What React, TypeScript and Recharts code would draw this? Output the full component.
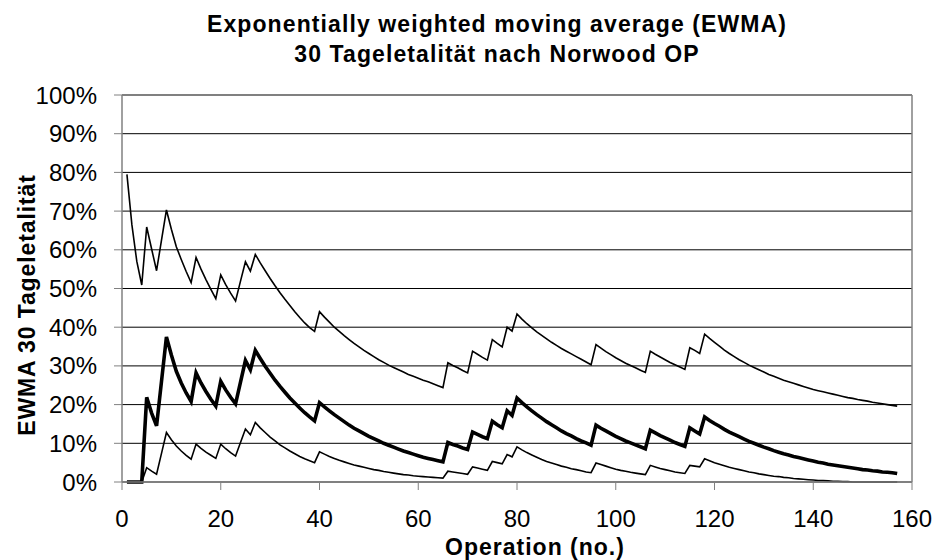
import React from 'react';
import { LineChart, Line, XAxis, YAxis, CartesianGrid, ReferenceLine } from 'recharts';

const FONT = '"Liberation Sans", Arial, Helvetica, sans-serif';

// Upper control limit (%), operations 1..157
const upper = [
  79.5, 66.5, 57.0, 50.9, 65.9, 60.2, 54.6, 62.5, 70.3, 65.3,
  60.8, 57.5, 54.4, 51.5, 58.0, 55.0, 52.3, 49.8, 47.4, 53.5,
  51.0, 48.8, 46.8, 51.9, 56.9, 54.5, 58.8, 56.6, 54.6, 52.6,
  50.7, 48.9, 47.2, 45.6, 44.0, 42.5, 41.1, 39.9, 38.9, 44.0,
  42.6, 41.3, 40.0, 38.9, 37.8, 36.8, 35.8, 34.9, 34.0, 33.2,
  32.4, 31.6, 30.9, 30.2, 29.6, 29.0, 28.4, 27.8, 27.3, 26.8,
  26.3, 25.9, 25.4, 24.9, 24.4, 30.8, 30.1, 29.5, 28.8, 28.2,
  33.8, 33.0, 32.2, 31.5, 36.8, 35.8, 34.9, 40.0, 39.0, 43.4,
  42.1, 40.9, 39.8, 38.8, 37.9, 37.0, 36.1, 35.3, 34.5, 33.8,
  33.1, 32.4, 31.7, 31.0, 30.3, 35.5, 34.6, 33.7, 32.9, 32.1,
  31.4, 30.7, 30.1, 29.5, 28.9, 28.3, 33.8, 33.0, 32.3, 31.6,
  30.9, 30.3, 29.7, 29.1, 34.7, 34.0, 33.2, 38.2, 37.1, 36.1,
  35.1, 34.1, 33.2, 32.4, 31.6, 30.9, 30.2, 29.6, 29.0, 28.4,
  27.8, 27.3, 26.8, 26.3, 25.9, 25.5, 25.1, 24.7, 24.3, 23.9,
  23.6, 23.3, 23.0, 22.7, 22.4, 22.1, 21.8, 21.6, 21.3, 21.1,
  20.9, 20.6, 20.4, 20.2, 20.0, 19.8, 19.6,
];

// EWMA 30-day mortality (%)
const ewma = [
  0, 0, 0, 0, 21.9, 17.8, 14.5, 26.0, 37.5, 32.8,
  28.6, 25.6, 23.0, 20.8, 28.2, 25.6, 23.4, 21.4, 19.6, 26.0,
  23.8, 21.9, 20.2, 25.8, 31.4, 29.0, 34.0, 31.9, 29.9, 28.1,
  26.3, 24.7, 23.2, 21.7, 20.4, 19.1, 17.9, 16.8, 15.8, 20.5,
  19.4, 18.4, 17.4, 16.5, 15.6, 14.7, 13.9, 13.2, 12.5, 11.8,
  11.2, 10.6, 10.0, 9.5, 9.0, 8.5, 8.0, 7.6, 7.2, 6.8,
  6.4, 6.1, 5.8, 5.5, 5.2, 10.2, 9.7, 9.3, 8.8, 8.4,
  12.9, 12.3, 11.7, 11.2, 15.7, 14.8, 14.0, 18.4, 17.2, 21.7,
  20.5, 19.4, 18.4, 17.4, 16.5, 15.6, 14.8, 14.0, 13.2, 12.5,
  11.9, 11.2, 10.6, 10.1, 9.5, 14.7, 13.9, 13.2, 12.5, 11.8,
  11.2, 10.6, 10.1, 9.6, 9.1, 8.6, 13.4, 12.7, 12.0, 11.4,
  10.8, 10.2, 9.7, 9.2, 14.0, 13.2, 12.4, 16.8, 15.9, 15.1,
  14.4, 13.6, 12.9, 12.3, 11.7, 11.1, 10.5, 10.0, 9.5, 9.0,
  8.6, 8.1, 7.7, 7.3, 7.0, 6.6, 6.3, 6.0, 5.7, 5.4,
  5.1, 4.9, 4.6, 4.4, 4.2, 4.0, 3.8, 3.6, 3.4, 3.2,
  3.1, 2.9, 2.8, 2.6, 2.5, 2.4, 2.2,
];

// Lower control limit (%)
const lower = [
  0, 0, 0, 0, 3.7, 2.8, 2.0, 7.4, 12.8, 10.9,
  9.3, 8.0, 6.9, 5.9, 9.8, 8.7, 7.7, 6.9, 6.1, 9.8,
  8.6, 7.6, 6.7, 10.2, 13.7, 12.2, 15.4, 14.0, 12.8, 11.6,
  10.6, 9.6, 8.8, 8.0, 7.3, 6.6, 6.0, 5.5, 5.0, 7.8,
  7.2, 6.6, 6.1, 5.6, 5.2, 4.8, 4.4, 4.1, 3.8, 3.5,
  3.2, 3.0, 2.7, 2.5, 2.3, 2.1, 1.9, 1.8, 1.6, 1.5,
  1.4, 1.3, 1.2, 1.1, 1.0, 2.8, 2.6, 2.4, 2.2, 2.0,
  3.9, 3.6, 3.3, 3.0, 5.3, 5.0, 4.7, 7.1, 6.5, 9.1,
  8.3, 7.6, 7.0, 6.4, 5.8, 5.3, 4.9, 4.5, 4.1, 3.8,
  3.4, 3.2, 2.9, 2.6, 2.4, 4.9, 4.5, 4.1, 3.7, 3.3,
  3.0, 2.8, 2.5, 2.3, 2.1, 1.9, 4.3, 3.9, 3.5, 3.2,
  2.9, 2.6, 2.4, 2.2, 4.3, 4.1, 3.9, 6.0, 5.5, 5.0,
  4.6, 4.2, 3.8, 3.5, 3.2, 2.9, 2.6, 2.4, 2.1, 1.9,
  1.7, 1.5, 1.4, 1.2, 1.1, 0.9, 0.8, 0.7, 0.6, 0.5,
  0.4, 0.4, 0.3, 0.2, 0.2, 0.1, 0.1, 0, 0, 0,
  0, 0, 0, 0, 0, 0, 0,
];

const xTicks = [0, 20, 40, 60, 80, 100, 120, 140, 160];
const yTicks = [0, 10, 20, 30, 40, 50, 60, 70, 80, 90, 100];

const titleLines = ['Exponentially weighted moving average (EWMA)', '30 Tageletalität nach Norwood OP'];
const xTitle = 'Operation (no.)';
const yTitle = 'EWMA 30 Tageletalität';

const data = upper.map((u, i) => ({ op: i + 1, upper: u, ewma: ewma[i], lower: lower[i] }));

const XTick = (props: any) => {
  const { x, y, payload } = props;
  return (
    <text x={x} y={y} dy={35} textAnchor="middle" fontFamily={FONT} fontSize={24} fill="#000">
      {payload.value}
    </text>
  );
};

const YTick = (props: any) => {
  const { x, y, payload } = props;
  return (
    <text x={x} y={y} dx={-15} dy={8.5} textAnchor="end" fontFamily={FONT} fontSize={24} fill="#000">
      {payload.value + '%'}
    </text>
  );
};

export default function App() {
  return (
    <div style={{ position: 'absolute', left: 0, top: 0, width: 936, height: 560, background: '#fff' }}>
      <LineChart
        width={936}
        height={560}
        data={data}
        margin={{ top: 95, right: 24, bottom: 0, left: 0 }}
      >
        <CartesianGrid vertical={false} stroke="#000" strokeWidth={1} />
        <XAxis
          dataKey="op"
          type="number"
          domain={[0, 160]}
          ticks={xTicks}
          interval={0}
          height={78}
          tickSize={8}
          stroke="#808080"
          tickLine={{ stroke: '#808080' }}
          axisLine={{ stroke: '#808080', strokeWidth: 1.5 }}
          tick={<XTick />}
        />
        <YAxis
          type="number"
          domain={[0, 100]}
          ticks={yTicks}
          interval={0}
          width={122}
          tickSize={8}
          stroke="#808080"
          tickLine={{ stroke: '#808080' }}
          axisLine={{ stroke: '#808080', strokeWidth: 1.5 }}
          tick={<YTick />}
        />
        <ReferenceLine y={100} stroke="#808080" strokeWidth={1.5} />
        <ReferenceLine x={160} stroke="#808080" strokeWidth={1.5} />
        <Line type="linear" dataKey="upper" stroke="#000" strokeWidth={1.6} dot={false} activeDot={false} isAnimationActive={false} />
        <Line type="linear" dataKey="lower" stroke="#000" strokeWidth={1.6} dot={false} activeDot={false} isAnimationActive={false} />
        <Line type="linear" dataKey="ewma" stroke="#000" strokeWidth={3.6} dot={false} activeDot={false} isAnimationActive={false} />
      </LineChart>
      <svg
        width={936}
        height={560}
        style={{ position: 'absolute', left: 0, top: 0, pointerEvents: 'none' }}
      >
        <text x={497} y={32} textAnchor="middle" fontFamily={FONT} fontWeight="bold" fontSize={23} letterSpacing={1.1} fill="#000">
          {titleLines[0]}
        </text>
        <text x={497} y={62} textAnchor="middle" fontFamily={FONT} fontWeight="bold" fontSize={23} letterSpacing={1.1} fill="#000">
          {titleLines[1]}
        </text>
        <text x={535} y={555} textAnchor="middle" fontFamily={FONT} fontWeight="bold" fontSize={23} letterSpacing={1} fill="#000">
          {xTitle}
        </text>
        <text
          x={0}
          y={0}
          transform="translate(35,305) rotate(-90)"
          textAnchor="middle"
          fontFamily={FONT}
          fontWeight="bold"
          fontSize={23}
          letterSpacing={0.9}
          fill="#000"
        >
          {yTitle}
        </text>
      </svg>
    </div>
  );
}
